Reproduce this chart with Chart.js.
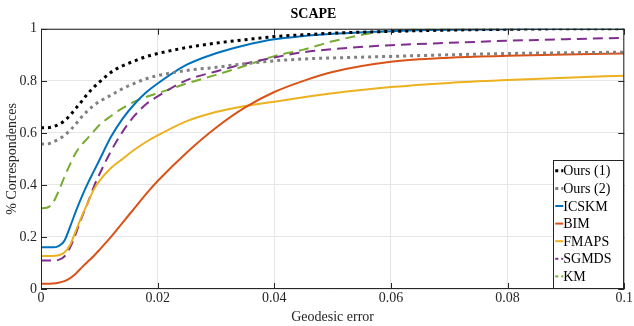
<!DOCTYPE html>
<html>
<head>
<meta charset="utf-8">
<script src="https://cdn.jsdelivr.net/npm/chart.js@4"></script>
<style>
  html, body { margin: 0; padding: 0; background: #fff; }
  #wrap { width: 634px; height: 326px; }
</style>
</head>
<body>
<div id="wrap"><canvas id="chart" width="634" height="326"></canvas></div>
<script>
/* ---- data ---- */
const geoErr = [0, 0.001, 0.002, 0.003, 0.004, 0.005, 0.006, 0.007, 0.008, 0.009, 0.010,
                0.012, 0.014, 0.016, 0.018, 0.02, 0.025, 0.03, 0.035, 0.04, 0.045, 0.05,
                0.06, 0.07, 0.08, 0.09, 0.1];

const ours1 = [0.62, 0.62, 0.623, 0.632, 0.646, 0.668, 0.695, 0.722, 0.75, 0.774, 0.795, 0.833, 0.858, 0.876, 0.893, 0.905, 0.928, 0.945, 0.958, 0.97, 0.977, 0.983, 0.99, 0.995, 0.998, 1.0, 1.0];
const ours2 = [0.557, 0.557, 0.565, 0.575, 0.59, 0.61, 0.635, 0.662, 0.685, 0.705, 0.72, 0.745, 0.77, 0.79, 0.808, 0.82, 0.84, 0.852, 0.866, 0.877, 0.884, 0.888, 0.894, 0.9, 0.905, 0.908, 0.91];
const icskm = [0.16, 0.16, 0.16, 0.165, 0.185, 0.24, 0.3, 0.355, 0.405, 0.45, 0.495, 0.585, 0.655, 0.71, 0.755, 0.79, 0.862, 0.906, 0.937, 0.96, 0.972, 0.981, 0.991, 0.996, 0.998, 1.0, 1.0];
const bim   = [0.02, 0.02, 0.021, 0.024, 0.03, 0.042, 0.06, 0.083, 0.105, 0.126, 0.15, 0.2, 0.255, 0.31, 0.365, 0.415, 0.525, 0.62, 0.698, 0.757, 0.8, 0.834, 0.873, 0.889, 0.896, 0.901, 0.905];
const fmaps = [0.127, 0.127, 0.127, 0.13, 0.14, 0.17, 0.225, 0.28, 0.33, 0.38, 0.415, 0.465, 0.50, 0.535, 0.565, 0.59, 0.645, 0.68, 0.703, 0.72, 0.737, 0.752, 0.776, 0.792, 0.803, 0.812, 0.82];
const sgmds = [0.11, 0.11, 0.11, 0.112, 0.125, 0.16, 0.215, 0.275, 0.33, 0.39, 0.44, 0.53, 0.605, 0.665, 0.71, 0.74, 0.803, 0.836, 0.866, 0.89, 0.91, 0.922, 0.937, 0.946, 0.954, 0.96, 0.965];
const km    = [0.31, 0.312, 0.33, 0.375, 0.43, 0.48, 0.525, 0.555, 0.58, 0.605, 0.63, 0.665, 0.695, 0.72, 0.738, 0.752, 0.79, 0.823, 0.858, 0.895, 0.92, 0.952, 0.993, 1.0, 1.0, 1.0, 1.0];

const xTicks = [0, 0.02, 0.04, 0.06, 0.08, 0.1];
const xTickLabels = ['0', '0.02', '0.04', '0.06', '0.08', '0.1'];
const yTicks = [0, 0.2, 0.4, 0.6, 0.8, 1];
const yTickLabels = ['0', '0.2', '0.4', '0.6', '0.8', '1'];
/* -------------------------------------- */

const SERIF = '"Liberation Serif", "Times New Roman", serif';
const pts = ys => geoErr.map((x, i) => ({ x, y: ys[i] }));

function series(label, ys, color, width, dash) {
  return {
    label, data: pts(ys),
    borderColor: color, backgroundColor: color,
    borderWidth: width, borderDash: dash || [],
    pointRadius: 0, fill: false,
    cubicInterpolationMode: 'monotone'
  };
}

// frame box + inner tick marks, matlab style
const framePlugin = {
  id: 'frame',
  afterDraw(chart) {
    const { ctx, chartArea: a, scales } = chart;
    ctx.save();
    ctx.strokeStyle = '#262626';
    ctx.lineWidth = 1;
    ctx.strokeRect(a.left + 0.5, a.top + 0.5, a.right - a.left - 1, a.bottom - a.top - 1);
    ctx.beginPath();
    xTicks.forEach(v => {
      const x = Math.round(scales.x.getPixelForValue(v)) + 0.5;
      ctx.moveTo(x, a.bottom); ctx.lineTo(x, a.bottom - 6);
      ctx.moveTo(x, a.top); ctx.lineTo(x, a.top + 6);
    });
    yTicks.forEach(v => {
      const y = Math.round(scales.y.getPixelForValue(v)) + 0.5;
      ctx.moveTo(a.left, y); ctx.lineTo(a.left + 6, y);
      ctx.moveTo(a.right, y); ctx.lineTo(a.right - 6, y);
    });
    ctx.stroke();
    ctx.restore();
  }
};

// legend box inside the plot, bottom right
const legendPlugin = {
  id: 'boxLegend',
  afterDraw(chart) {
    const { ctx, chartArea: a } = chart;
    const sets = chart.data.datasets;
    const rowH = 17.6;
    const w = 70, h = sets.length * rowH + 5;
    const x0 = a.right - w - 1, y0 = a.bottom - h - 1;
    ctx.save();
    ctx.fillStyle = '#fff';
    ctx.fillRect(x0, y0, w, h);
    ctx.strokeStyle = '#262626';
    ctx.lineWidth = 1;
    ctx.strokeRect(Math.round(x0) + 0.5, Math.round(y0) + 0.5, Math.round(w), Math.round(h));
    ctx.font = '14px ' + SERIF;
    ctx.textBaseline = 'middle';
    sets.forEach((ds, i) => {
      const y = y0 + 11 + i * rowH;
      ctx.strokeStyle = ds.borderColor;
      ctx.lineWidth = ds.borderWidth;
      ctx.setLineDash(ds.borderDash.length ? [3, 3] : []);
      ctx.beginPath();
      ctx.moveTo(x0 + 2, y); ctx.lineTo(x0 + 10, y);
      ctx.stroke();
      ctx.setLineDash([]);
      ctx.fillStyle = '#000';
      ctx.fillText(ds.label, x0 + 10, y + 1);
    });
    ctx.restore();
  }
};

new Chart(document.getElementById('chart'), {
  type: 'line',
  data: {
    datasets: [
      series('Ours (1)', ours1, '#000000', 3, [3, 4]),
      series('Ours (2)', ours2, '#808080', 3, [3, 4]),
      series('ICSKM', icskm, '#0072BD', 2),
      series('BIM', bim, '#D95319', 2),
      series('FMAPS', fmaps, '#EDB120', 2),
      series('SGMDS', sgmds, '#7E2F8E', 2, [10, 6]),
      series('KM', km, '#77AC30', 2, [10, 6])
    ]
  },
  options: {
    responsive: false,
    animation: false,
    layout: { padding: { top: 0, right: 7, left: 0, bottom: 0 } },
    plugins: {
      legend: { display: false },
      tooltip: { enabled: false },
      title: {
        display: true, text: 'SCAPE', color: '#000',
        font: { family: SERIF, size: 14, weight: 'bold' },
        padding: { top: 6, bottom: 6 }
      }
    },
    scales: {
      x: {
        type: 'linear', min: 0, max: 0.1,
        afterBuildTicks: s => { s.ticks = xTicks.map(v => ({ value: v })); },
        afterFit: s => { s.height = 37; },
        ticks: {
          color: '#262626', font: { family: SERIF, size: 14 }, padding: 1,
          maxRotation: 0,
          callback: v => xTickLabels[xTicks.indexOf(v)]
        },
        grid: { color: '#e6e6e6', drawTicks: false },
        border: { display: false },
        title: {
          display: true, text: 'Geodesic error', color: '#262626',
          font: { family: SERIF, size: 14 }, padding: { top: 2, bottom: 0 }
        }
      },
      y: {
        type: 'linear', min: 0, max: 1,
        afterBuildTicks: s => { s.ticks = yTicks.map(v => ({ value: v })); },
        afterFit: s => { s.width = 41; },
        ticks: {
          color: '#262626', font: { family: SERIF, size: 14 }, padding: 4,
          callback: v => yTickLabels[yTicks.indexOf(v)]
        },
        grid: { color: '#e6e6e6', drawTicks: false },
        border: { display: false },
        title: {
          display: true, text: '% Correspondences', color: '#262626',
          font: { family: SERIF, size: 14 }, padding: { top: 4, bottom: 0 }
        }
      }
    }
  },
  plugins: [framePlugin, legendPlugin]
});
</script>
</body>
</html>
